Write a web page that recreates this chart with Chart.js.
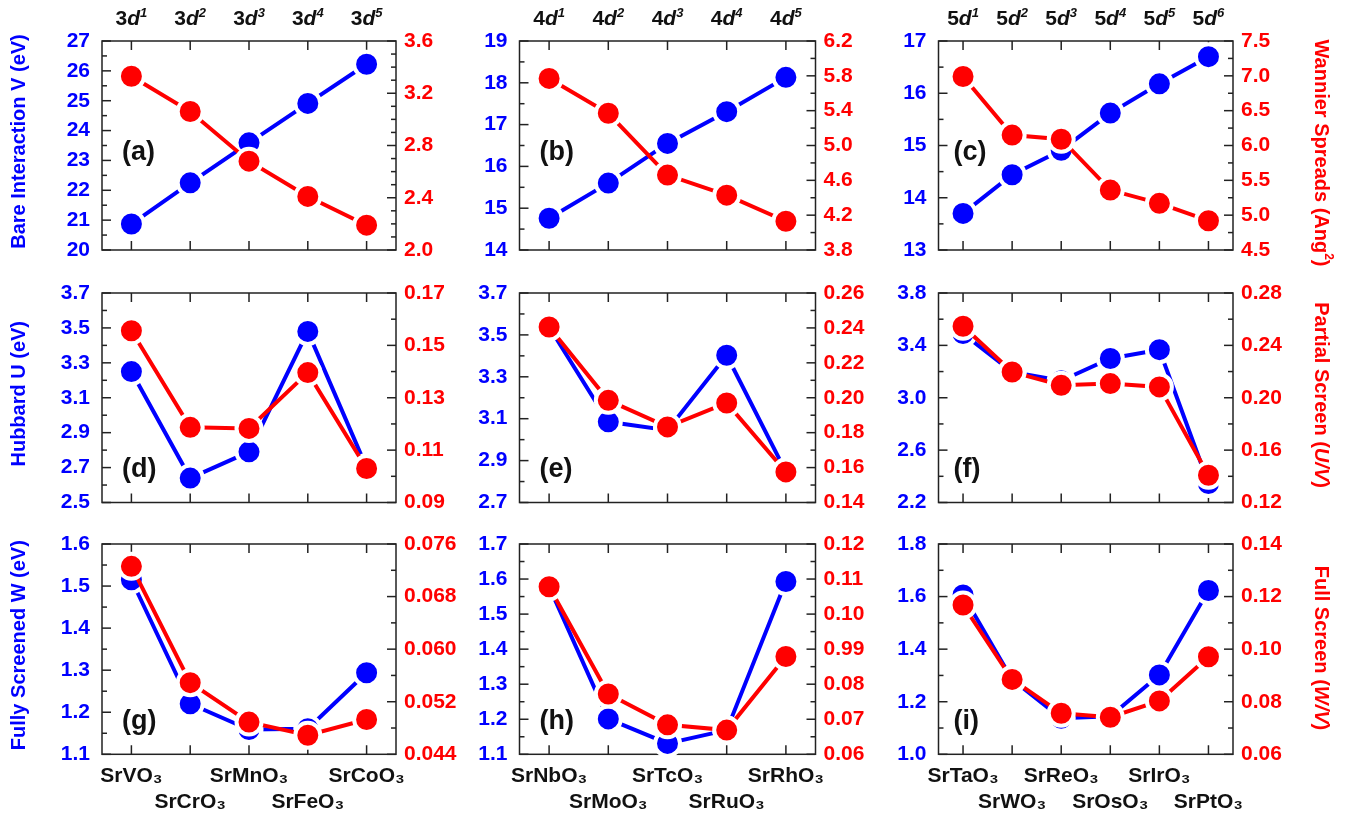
<!DOCTYPE html>
<html>
<head>
<meta charset="utf-8">
<title>Interaction parameters of SrMO3 perovskites</title>
<script src="https://cdn.jsdelivr.net/npm/chart.js@4.4.0/dist/chart.umd.min.js"></script>
<style>
    html, body { margin: 0; padding: 0; background: #fff; }
    #wrap { position: relative; width: 1354px; height: 819px; overflow: hidden; }
    #wrap canvas { position: absolute; left: 0; top: 0; }
</style>
</head>
<body>
<div id="wrap">
    <canvas id="pa" width="1354" height="819"></canvas>
    <canvas id="pb" width="1354" height="819"></canvas>
    <canvas id="pc" width="1354" height="819"></canvas>
    <canvas id="pd" width="1354" height="819"></canvas>
    <canvas id="pe" width="1354" height="819"></canvas>
    <canvas id="pf" width="1354" height="819"></canvas>
    <canvas id="pg" width="1354" height="819"></canvas>
    <canvas id="ph" width="1354" height="819"></canvas>
    <canvas id="pi" width="1354" height="819"></canvas>
</div>
<script>
// Compounds (bottom axis) and d-electron counts (top axis)
const cat3d = ['SrVO₃', 'SrCrO₃', 'SrMnO₃', 'SrFeO₃', 'SrCoO₃'];
const cat4d = ['SrNbO₃', 'SrMoO₃', 'SrTcO₃', 'SrRuO₃', 'SrRhO₃'];
const cat5d = ['SrTaO₃', 'SrWO₃', 'SrReO₃', 'SrOsO₃', 'SrIrO₃', 'SrPtO₃'];
const top3d = ['3d1', '3d2', '3d3', '3d4', '3d5'];
const top4d = ['4d1', '4d2', '4d3', '4d4', '4d5'];
const top5d = ['5d1', '5d2', '5d3', '5d4', '5d5', '5d6'];

// Bare interaction V (eV) and Wannier spreads (Ang^2)
const V3d = [20.87, 22.25, 23.59, 24.91, 26.22];
const spread3d = [3.33, 3.06, 2.68, 2.41, 2.19];
const V4d = [14.76, 15.60, 16.55, 17.31, 18.13];
const spread4d = [5.77, 5.37, 4.66, 4.43, 4.13];
const V5d = [13.70, 14.44, 14.91, 15.62, 16.18, 16.70];
const spread5d = [6.99, 6.15, 6.09, 5.36, 5.17, 4.92];

// Hubbard U (eV) and partial screening U/V
const U3d = [3.25, 2.64, 2.79, 3.48, 2.70];
const UV3d = [0.1556, 0.1187, 0.1183, 0.1396, 0.1030];
const U4d = [3.538, 3.085, 3.045, 3.403, 2.846];
const UV4d = [0.2405, 0.1985, 0.1833, 0.1970, 0.1575];
const U5d = [3.49, 3.197, 3.13, 3.30, 3.367, 2.345];
const UV5d = [0.2546, 0.2197, 0.2095, 0.2108, 0.2083, 0.1408];

// Fully screened W (eV) and full screening W/V
const W3d = [1.515, 1.220, 1.159, 1.161, 1.294];
const WV3d = [0.0726, 0.0549, 0.0489, 0.0469, 0.0493];
const W4d = [1.578, 1.201, 1.131, 1.169, 1.593];
const WV4d = [0.1078, 0.0772, 0.0684, 0.0669, 0.0879];
const W5d = [1.606, 1.285, 1.137, 1.145, 1.302, 1.623];
const WV5d = [0.1168, 0.0885, 0.0756, 0.0741, 0.0803, 0.0971];

// Tick labels (left = blue axis, right = red axis)
const tickV3d = ['20', '21', '22', '23', '24', '25', '26', '27'];
const tickS3d = ['2.0', '2.4', '2.8', '3.2', '3.6'];
const tickV4d = ['14', '15', '16', '17', '18', '19'];
const tickS4d = ['3.8', '4.2', '4.6', '5.0', '5.4', '5.8', '6.2'];
const tickV5d = ['13', '14', '15', '16', '17'];
const tickS5d = ['4.5', '5.0', '5.5', '6.0', '6.5', '7.0', '7.5'];
const tickU3d = ['2.5', '2.7', '2.9', '3.1', '3.3', '3.5', '3.7'];
const tickUV3d = ['0.09', '0.11', '0.13', '0.15', '0.17'];
const tickU4d = ['2.7', '2.9', '3.1', '3.3', '3.5', '3.7'];
const tickUV4d = ['0.14', '0.16', '0.18', '0.20', '0.22', '0.24', '0.26'];
const tickU5d = ['2.2', '2.6', '3.0', '3.4', '3.8'];
const tickUV5d = ['0.12', '0.16', '0.20', '0.24', '0.28'];
const tickW3d = ['1.1', '1.2', '1.3', '1.4', '1.5', '1.6'];
const tickWV3d = ['0.044', '0.052', '0.060', '0.068', '0.076'];
const tickW4d = ['1.1', '1.2', '1.3', '1.4', '1.5', '1.6', '1.7'];
const tickWV4d = ['0.06', '0.07', '0.08', '0.99', '0.10', '0.11', '0.12'];
const tickW5d = ['1.0', '1.2', '1.4', '1.6', '1.8'];
const tickWV5d = ['0.06', '0.08', '0.10', '0.12', '0.14'];

const BLUE = '#0000ff';
const RED = '#ff0000';
const FONT = '"Liberation Sans", Arial, sans-serif';
const tickFont = { family: FONT, size: 21, weight: 'bold' };
const W = 1354, H = 819;

// Plot frames of the 3x3 grid
const colX = [[102, 396], [519.5, 815.5], [938.5, 1233]];
const rowY = [[41, 250], [293, 502.5], [544, 754.3]];
const tagY = [153, 470, 722];
const tagDx = [20, 20, 15];

const panels = [
    { id: 'pa', row: 0, col: 0, cats: cat3d, top: top3d, left: V3d, right: spread3d, lt: tickV3d, rt: tickS3d, lmin: 20, lstep: 1, lminor: 0.5, rmin: 2.0, rstep: 0.4, rminor: 0.1, tag: '(a)' },
    { id: 'pb', row: 0, col: 1, cats: cat4d, top: top4d, left: V4d, right: spread4d, lt: tickV4d, rt: tickS4d, lmin: 14, lstep: 1, lminor: 0.5, rmin: 3.8, rstep: 0.4, rminor: 0.2, tag: '(b)' },
    { id: 'pc', row: 0, col: 2, cats: cat5d, top: top5d, left: V5d, right: spread5d, lt: tickV5d, rt: tickS5d, lmin: 13, lstep: 1, lminor: 0.5, rmin: 4.5, rstep: 0.5, rminor: 0.25, tag: '(c)' },
    { id: 'pd', row: 1, col: 0, cats: cat3d, left: U3d, right: UV3d, lt: tickU3d, rt: tickUV3d, lmin: 2.5, lstep: 0.2, lminor: 0.1, rmin: 0.09, rstep: 0.02, rminor: 0.01, tag: '(d)' },
    { id: 'pe', row: 1, col: 1, cats: cat4d, left: U4d, right: UV4d, lt: tickU4d, rt: tickUV4d, lmin: 2.7, lstep: 0.2, lminor: 0.1, rmin: 0.14, rstep: 0.02, rminor: 0.01, tag: '(e)' },
    { id: 'pf', row: 1, col: 2, cats: cat5d, left: U5d, right: UV5d, lt: tickU5d, rt: tickUV5d, lmin: 2.2, lstep: 0.4, lminor: 0.2, rmin: 0.12, rstep: 0.04, rminor: 0.02, tag: '(f)' },
    { id: 'pg', row: 2, col: 0, cats: cat3d, left: W3d, right: WV3d, lt: tickW3d, rt: tickWV3d, lmin: 1.1, lstep: 0.1, lminor: 0.05, rmin: 0.044, rstep: 0.008, rminor: 0.004, tag: '(g)' },
    { id: 'ph', row: 2, col: 1, cats: cat4d, left: W4d, right: WV4d, lt: tickW4d, rt: tickWV4d, lmin: 1.1, lstep: 0.1, lminor: 0.05, rmin: 0.06, rstep: 0.01, rminor: 0.005, tag: '(h)' },
    { id: 'pi', row: 2, col: 2, cats: cat5d, left: W5d, right: WV5d, lt: tickW5d, rt: tickWV5d, lmin: 1.0, lstep: 0.2, lminor: 0.1, rmin: 0.06, rstep: 0.02, rminor: 0.01, tag: '(i)' }
];

const leftTitles = [
    [{ t: 'Bare Interaction V (eV)' }],
    [{ t: 'Hubbard U (eV)' }],
    [{ t: 'Fully Screened W (eV)' }]
];
const rightTitles = [
    [{ t: 'Wannier Spreads (Ang' }, { t: '2', sup: true }, { t: ')' }],
    [{ t: 'Partial Screen (' }, { t: 'U/V', it: true }, { t: ')' }],
    [{ t: 'Full Screen (' }, { t: 'W/V', it: true }, { t: ')' }]
];

// draws a run of mixed-style text centred on (0, 0)
function drawRuns(ctx, runs, size) {
    const fontOf = r => (r.it ? 'italic ' : '') + 'bold ' + (r.sup ? Math.round(size * 0.62) : size) + 'px ' + FONT;
    let total = 0;
    runs.forEach(r => { ctx.font = fontOf(r); r.w = ctx.measureText(r.t).width; total += r.w; });
    let x = -total / 2;
    runs.forEach(r => {
        ctx.font = fontOf(r);
        ctx.fillText(r.t, x, r.sup ? -size * 0.38 : 0);
        x += r.w;
    });
}

function yScale(labels, min, step, color, position, width) {
    return {
        type: 'linear',
        position: position,
        min: min,
        max: min + step * (labels.length - 1),
        grid: { display: false, drawTicks: false },
        border: { display: false },
        afterBuildTicks: s => { s.ticks = labels.map((l, i) => ({ value: min + i * step })); },
        afterFit: s => { s.width = width; },
        ticks: {
            color: color,
            font: tickFont,
            padding: position === 'left' ? 12 : 8,
            autoSkip: false,
            callback: (v, i) => labels[i]
        }
    };
}

function decor(p) {
    return {
        id: 'decor' + p.id,
        beforeDatasetsDraw(chart) {
            const ctx = chart.ctx;
            const a = chart.chartArea;
            const sx = chart.scales.x, sy = chart.scales.y, sy1 = chart.scales.y1;
            ctx.save();
            ctx.strokeStyle = '#222';
            ctx.lineWidth = 1.5;
            ctx.strokeRect(a.left, a.top, a.right - a.left, a.bottom - a.top);
            // x ticks, bottom and top, pointing in
            p.cats.forEach((c, i) => {
                const x = sx.getPixelForValue(i);
                ctx.beginPath();
                ctx.moveTo(x, a.bottom); ctx.lineTo(x, a.bottom - 9);
                ctx.moveTo(x, a.top); ctx.lineTo(x, a.top + 9);
                ctx.stroke();
            });
            // y ticks with minors
            const sides = [[sy, p.lmin, p.lstep, p.lminor, p.lt.length, a.left, 1],
                           [sy1, p.rmin, p.rstep, p.rminor, p.rt.length, a.right, -1]];
            sides.forEach(([s, min, step, minor, n, x0, dir]) => {
                const count = Math.round(step * (n - 1) / minor);
                for (let k = 0; k <= count; k++) {
                    const v = min + k * minor;
                    const r = k * minor / step;
                    const major = Math.abs(r - Math.round(r)) < 1e-6;
                    const y = s.getPixelForValue(v);
                    ctx.beginPath();
                    ctx.moveTo(x0, y);
                    ctx.lineTo(x0 + dir * (major ? 9 : 5), y);
                    ctx.stroke();
                }
            });
            ctx.restore();
        },
        afterDraw(chart) {
            const ctx = chart.ctx;
            const a = chart.chartArea;
            ctx.save();
            ctx.textBaseline = 'middle';
            ctx.textAlign = 'left';
            ctx.fillStyle = '#111';
            ctx.font = 'bold 27px ' + FONT;
            ctx.fillText(p.tag, a.left + tagDx[p.col], tagY[p.row]);

            if (p.top) {
                const sx = chart.scales.x;
                ctx.textBaseline = 'alphabetic';
                ctx.fillStyle = '#111';
                p.top.forEach((lab, i) => {
                    ctx.save();
                    ctx.translate(sx.getPixelForValue(i), 25);
                    drawRuns(ctx, [{ t: lab[0] }, { t: lab[1], it: true }, { t: lab.slice(2), it: true, sup: true }], 21);
                    ctx.restore();
                });
            }
            ctx.textBaseline = 'middle';
            if (p.col === 0) {
                ctx.save();
                ctx.fillStyle = BLUE;
                ctx.translate(19, (a.top + a.bottom) / 2 - 4);
                ctx.rotate(-Math.PI / 2);
                drawRuns(ctx, leftTitles[p.row], 20);
                ctx.restore();
            }
            if (p.col === 2) {
                ctx.save();
                ctx.fillStyle = RED;
                ctx.translate(1321, [153, 395, 648][p.row]);
                ctx.rotate(Math.PI / 2);
                drawRuns(ctx, rightTitles[p.row], 20);
                ctx.restore();
            }
            ctx.restore();
        }
    };
}

function makePanel(p) {
    const ctx = document.getElementById(p.id).getContext('2d');
    const fx = colX[p.col], fy = rowY[p.row];
    const bottomRow = p.row === 2;
    const xLabels = bottomRow ? p.cats.map((c, i) => (i % 2 === 0 ? [c, ''] : ['', c])) : p.cats;
    const line = (data, color, axis, order) => ({
        data: data,
        yAxisID: axis,
        order: order,
        borderColor: color,
        backgroundColor: color,
        borderWidth: 4,
        pointRadius: 12.5,
        pointHoverRadius: 12.5,
        pointBorderWidth: 4,
        pointBorderColor: '#fff',
        pointBackgroundColor: color,
        tension: 0,
        clip: false
    });
    return new Chart(ctx, {
        type: 'line',
        data: {
            labels: xLabels,
            datasets: [line(p.right, RED, 'y1', 1), line(p.left, BLUE, 'y', 2)]
        },
        options: {
            responsive: false,
            animation: false,
            devicePixelRatio: 1,
            layout: { padding: { left: 0, right: 0, top: fy[0], bottom: 0 } },
            plugins: { legend: { display: false }, tooltip: { enabled: false } },
            scales: {
                x: {
                    type: 'category',
                    offset: true,
                    grid: { display: false, drawTicks: false },
                    border: { display: false },
                    afterFit: s => { s.height = H - fy[1]; },
                    ticks: {
                        display: bottomRow,
                        color: '#111',
                        font: { family: FONT, size: 21, weight: 'bold', lineHeight: 1.24 },
                        padding: 9,
                        autoSkip: false,
                        maxRotation: 0,
                        minRotation: 0
                    }
                },
                y: yScale(p.lt, p.lmin, p.lstep, BLUE, 'left', fx[0]),
                y1: yScale(p.rt, p.rmin, p.rstep, RED, 'right', W - fx[1])
            }
        },
        plugins: [decor(p)]
    });
}

panels.forEach(makePanel);
</script>
</body>
</html>
